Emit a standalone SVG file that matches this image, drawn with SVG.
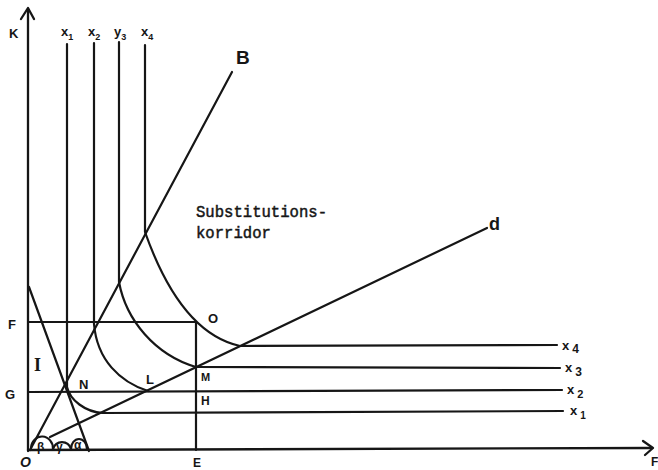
<svg xmlns="http://www.w3.org/2000/svg" width="658" height="470" viewBox="0 0 658 470">
<style>
.ln{stroke:#161616;stroke-width:2.2;fill:none;stroke-linecap:round;stroke-linejoin:round}
.ax{stroke:#161616;stroke-width:2.3;fill:none;stroke-linecap:round;stroke-linejoin:round}
.hw{font-family:"Liberation Sans","DejaVu Sans",sans-serif;fill:#161616;font-weight:bold}
.tw{font-family:"Liberation Mono","DejaVu Sans Mono",monospace;fill:#161616;font-size:15.6px;stroke:#161616;stroke-width:0.45}
.sub{font-size:9px}
</style>
<rect width="658" height="470" fill="#ffffff"/>
<g id="axes">
<path class="ax" d="M28,451 V9"/>
<path class="ax" d="M21,19 L28,8 L34,19"/>
<path class="ax" d="M28,450 L651,448"/>
<path class="ax" d="M643,441 L653,448 L645,455"/>
</g>
<g id="rays">
<path class="ln" d="M30,450 L232,72"/>
<path class="ln" d="M50,437 L487,228"/>
<path class="ln" d="M29,287 L89,451"/>
</g>
<g id="angles">
<path class="ln" d="M31,448 A11,12 0 0 1 53,449"/>
<path class="ln" d="M53,449 A9.5,10 0 0 1 71,449"/>
<path class="ln" d="M71,449 A8,10 0 0 1 87,449"/>
</g>
<g id="isoquant-x1">
<path class="ln" d="M67,44 V387 C70,400 85,412 103,413 L563,411"/>
</g>
<g id="isoquant-x2">
<path class="ln" d="M94,43 V324 C97,360 120,382 148,391"/>
<path class="ln" d="M28,392 L562,390"/>
</g>
<g id="isoquant-x3">
<path class="ln" d="M119,42 V282 C126,320 155,355 196,367 L560,368"/>
</g>
<g id="isoquant-x4">
<path class="ln" d="M145,45 V232 C162,280 190,335 240,346 L557,345"/>
</g>
<g id="guides">
<path class="ln" d="M28,322 H196 V450"/>
</g>
<g id="labels">
<text class="hw" x="9" y="38" font-size="13">K</text>
<text class="hw" x="61" y="36" font-size="13">x<tspan class="sub" dy="4">1</tspan></text>
<text class="hw" x="88" y="36" font-size="13">x<tspan class="sub" dy="4">2</tspan></text>
<text class="hw" x="114" y="36" font-size="13">y<tspan class="sub" dy="4">3</tspan></text>
<text class="hw" x="141" y="36" font-size="13">x<tspan class="sub" dy="4">4</tspan></text>
<text class="hw" x="236" y="64" font-size="19" font-weight="normal">B</text>
<text class="hw" x="489" y="230" font-size="18" font-weight="normal">d</text>
<text class="tw" x="196" y="217">Substitutions-</text>
<text class="tw" x="196" y="238">korridor</text>
<text class="hw" x="208" y="323" font-size="13">O</text>
<text class="hw" x="201" y="381" font-size="11">M</text>
<text class="hw" x="201" y="405" font-size="12">H</text>
<text class="hw" x="146" y="384" font-size="13">L</text>
<text class="hw" x="193" y="467" font-size="12">E</text>
<text class="hw" x="79" y="389" font-size="13">N</text>
<text x="34" y="371" font-size="18" font-weight="bold" font-family="Liberation Serif,serif" fill="#161616">I</text>
<text class="hw" x="8" y="329" font-size="13">F</text>
<text class="hw" x="5" y="399" font-size="13">G</text>
<text class="hw" x="20" y="467" font-size="14" font-style="italic">O</text>
<text class="hw" x="37" y="451" font-size="12">β</text>
<text class="hw" x="56" y="451" font-size="12">γ</text>
<text class="hw" x="74" y="449" font-size="12">α</text>
<text class="hw" x="562" y="350" font-size="13">x<tspan font-size="12" dx="3" dy="3">4</tspan></text>
<text class="hw" x="565" y="372" font-size="13">x<tspan font-size="12" dx="3" dy="4">3</tspan></text>
<text class="hw" x="567" y="394" font-size="13">x<tspan font-size="11" dx="3" dy="4">2</tspan></text>
<text class="hw" x="570" y="415" font-size="13">x<tspan font-size="10" dx="3" dy="4">1</tspan></text>
<text class="hw" x="651" y="466" font-size="12">F</text>
</g>
</svg>
